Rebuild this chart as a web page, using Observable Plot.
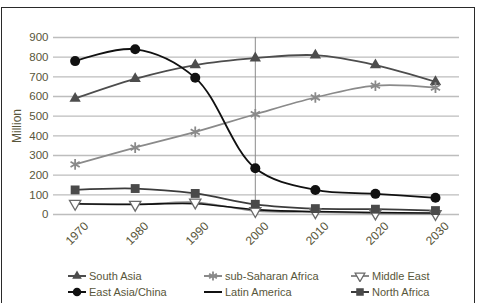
<!DOCTYPE html>
<html>
<head>
<meta charset="utf-8">
<script src="https://cdn.jsdelivr.net/npm/d3@7"></script>
<script src="https://cdn.jsdelivr.net/npm/@observablehq/plot@0.6"></script>
<style>
  html, body { margin: 0; padding: 0; background: #fff; }
  body { width: 477px; height: 303px; position: relative; overflow: hidden;
         font-family: "Liberation Sans", Arial, sans-serif; }
  #frame { position: absolute; left: 1px; top: 7px; width: 474px; height: 300px;
           border: 1.5px solid #2a2a2a; box-sizing: border-box; pointer-events: none; }
  #chart { position: absolute; left: 0; top: 0; }
  .leg { position: absolute; display: flex; align-items: center; font-size: 11px; color: #58563a; white-space: nowrap; }
  .leg svg { margin-right: 2px; }
</style>
</head>
<body>
<div id="chart"></div>
<div id="legend"></div>
<div id="frame"></div>
<script>
const years = [1970, 1980, 1990, 2000, 2010, 2020, 2030];
const yearLabels = ["1970", "1980", "1990", "2000", "2010", "2020", "2030"];
const yTicks = [0, 100, 200, 300, 400, 500, 600, 700, 800, 900];
const southAsia    = [590, 690, 760, 795, 810, 760, 675];
const subSaharan   = [255, 340, 420, 510, 595, 655, 645];
const middleEast   = [55, 50, 62, 18, 12, 6, 3];
const eastAsia     = [780, 840, 695, 235, 125, 105, 85];
const latinAmerica = [55, 52, 55, 25, 15, 10, 8];
const northAfrica  = [125, 132, 107, 52, 30, 27, 20];
const yTitle = "Million";

const textColor = "#58563a";
const rows = arr => years.map((y, i) => ({year: y, v: arr[i]}));

const series = [
  {name: "South Asia", data: southAsia, stroke: "#4d4d4d", sw: 1.8, symbol: "triangle", fill: "#4d4d4d", r: 4.2},
  {name: "sub-Saharan Africa", data: subSaharan, stroke: "#8a8a8a", sw: 1.7, symbol: "asterisk", fill: "none", r: 5, dotStroke: "#8a8a8a"},
  {name: "Middle East", data: middleEast, stroke: "#8a8a8a", sw: 1.7, symbol: "triangle", fill: "#fff", r: 4.2, dotStroke: "#6a6a6a", rotate: 180},
  {name: "East Asia/China", data: eastAsia, stroke: "#111", sw: 1.8, symbol: "circle", fill: "#111", r: 5},
  {name: "Latin America", data: latinAmerica, stroke: "#111", sw: 1.6, symbol: null},
  {name: "North Africa", data: northAfrica, stroke: "#3c3c3c", sw: 1.8, symbol: "square", fill: "#4a4a4a", r: 5}
];

const marks = [
  Plot.ruleY(yTicks, {stroke: "#bdbdbd", strokeWidth: 1.3}),
  Plot.ruleX([2000], {y1: 0, y2: 900, stroke: "#8a8a8a", strokeWidth: 1}),
  Plot.text(yTicks, {y: d => d, text: d => String(d), frameAnchor: "left", textAnchor: "end", dx: -5, fill: textColor, fontSize: 11.5}),
  Plot.text(years, {x: d => d, y: 0, text: (d, i) => yearLabels[i], dy: 19, dx: 2, rotate: -45, textAnchor: "middle", fill: textColor, fontSize: 12}),
  Plot.text([yTitle], {frameAnchor: "left", dx: -36, rotate: -90, textAnchor: "middle", fill: textColor, fontSize: 12})
];
for (const s of series) {
  marks.push(Plot.line(rows(s.data), {x: "year", y: "v", stroke: s.stroke, strokeWidth: s.sw, curve: "catmull-rom"}));
}
for (const s of series) {
  if (!s.symbol) continue;
  const opts = {x: "year", y: "v", symbol: s.symbol, r: s.r, fill: s.fill};
  if (s.dotStroke) { opts.stroke = s.dotStroke; opts.strokeWidth = s.symbol === "asterisk" ? 1.8 : 1.3; }
  if (s.rotate) opts.rotate = s.rotate;
  marks.push(Plot.dot(rows(s.data), opts));
}

const chart = Plot.plot({
  width: 477, height: 255,
  marginLeft: 53, marginRight: 18, marginTop: 37, marginBottom: 41,
  x: {domain: [1966.4, 2034], axis: null},
  y: {domain: [0, 900], axis: null},
  style: {fontFamily: "'Liberation Sans', Arial, sans-serif", background: "transparent"},
  marks
});
document.getElementById("chart").appendChild(chart);

// legend
function swatch(s) {
  const ns = "http://www.w3.org/2000/svg";
  const svg = document.createElementNS(ns, "svg");
  svg.setAttribute("width", 20); svg.setAttribute("height", 12);
  const line = document.createElementNS(ns, "line");
  line.setAttribute("x1", 1); line.setAttribute("x2", 19); line.setAttribute("y1", 6); line.setAttribute("y2", 6);
  line.setAttribute("stroke", s.stroke); line.setAttribute("stroke-width", 2);
  svg.appendChild(line);
  if (s.symbol) {
    const sym = {triangle: d3.symbolTriangle, asterisk: d3.symbolAsterisk, circle: d3.symbolCircle, square: d3.symbolSquare}[s.symbol];
    const p = document.createElementNS(ns, "path");
    const rr = s.r * 0.85;
    p.setAttribute("d", d3.symbol(sym, Math.PI * rr * rr)());
    p.setAttribute("transform", `translate(10,6)${s.rotate ? " rotate(" + s.rotate + ")" : ""}`);
    p.setAttribute("fill", s.fill);
    if (s.dotStroke) { p.setAttribute("stroke", s.dotStroke); p.setAttribute("stroke-width", s.symbol === "asterisk" ? 1.8 : 1.3); }
    svg.appendChild(p);
  }
  return svg;
}
const legendPos = {
  "South Asia": [67, 276], "sub-Saharan Africa": [203, 276], "Middle East": [350, 276],
  "East Asia/China": [67, 292], "Latin America": [203, 292], "North Africa": [350, 292]
};
const legend = document.getElementById("legend");
for (const s of series) {
  const d = document.createElement("div");
  d.className = "leg";
  const [x, y] = legendPos[s.name];
  d.style.left = x + "px"; d.style.top = (y - 8) + "px"; d.style.height = "16px";
  d.appendChild(swatch(s));
  const t = document.createElement("span"); t.textContent = s.name;
  d.appendChild(t);
  legend.appendChild(d);
}
</script>
</body>
</html>
